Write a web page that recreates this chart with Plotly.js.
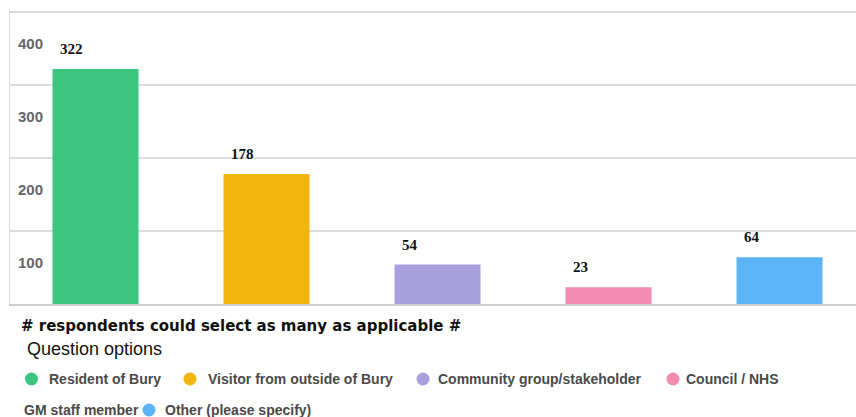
<!DOCTYPE html>
<html>
<head>
<meta charset="utf-8">
<script src="https://cdn.plot.ly/plotly-3.0.1.min.js"></script>
<style>
  html, body { margin: 0; padding: 0; background: #fff; }
  #chart { width: 856px; height: 417px; }
</style>
</head>
<body>
<div id="chart"></div>
<script>
// ---- data ----
const categories = ["Resident of Bury", "Visitor from outside of Bury", "Community group/stakeholder", "Council / NHS GM staff member", "Other (please specify)"];
const values = [322, 178, 54, 23, 64];
const colors = ["#3DC480", "#F1B60F", "#A9A0E0", "#F28BB0", "#5CB3F5"];
const yTicks = [100, 200, 300, 400];
const noteText = "# respondents could select as many as applicable #";
const legendTitle = "Question options";

// ---- layout helpers (pixel offsets from plot's bottom-left corner) ----
const plotLeft = 10, plotBottom = 304;
function px(x) { return x - plotLeft; }
function py(y) { return plotBottom - y; }

const trace = {
  type: "bar",
  x: categories,
  y: values,
  marker: { color: colors },
  hoverinfo: "x+y",
  showlegend: false
};

const annotations = [];
// value labels above bars, left-aligned near bar's left edge
values.forEach((v, i) => {
  annotations.push({
    x: i, y: v, xref: "x", yref: "y",
    text: String(v), showarrow: false,
    xanchor: "left", yanchor: "middle",
    xshift: -38, yshift: 20,
    font: { family: "Liberation Serif", size: 15, color: "#111", weight: "bold" }
  });
});
// note and legend title
annotations.push({
  x: 0, y: 0, xref: "paper", yref: "paper", text: "<b>" + noteText + "</b>",
  showarrow: false, xanchor: "left", yanchor: "middle",
  xshift: px(19), yshift: -(326 - plotBottom),
  font: { family: "DejaVu Sans", size: 15, color: "#111" }
});
annotations.push({
  x: 0, y: 0, xref: "paper", yref: "paper", text: legendTitle,
  showarrow: false, xanchor: "left", yanchor: "middle",
  xshift: px(25), yshift: -(349 - plotBottom),
  font: { family: "Liberation Sans", size: 18, color: "#111" }
});

// manual legend layout
const legendItems = [
  { label: "Resident of Bury", cx: 31.5, tx: 49, y: 379, c: 0 },
  { label: "Visitor from outside of Bury", cx: 190, tx: 208, y: 379, c: 1 },
  { label: "Community group/stakeholder", cx: 423, tx: 438, y: 379, c: 2 },
  { label: "Council / NHS", cx: 673, tx: 686, y: 379, c: 3 },
  { label: "GM staff member", cx: null, tx: 24, y: 410, c: null },
  { label: "Other (please specify)", cx: 149, tx: 165, y: 410, c: 4 }
];
const shapes = [];
const r = 6.5;
legendItems.forEach(it => {
  annotations.push({
    x: 0, y: 0, xref: "paper", yref: "paper", text: "<b>" + it.label + "</b>",
    showarrow: false, xanchor: "left", yanchor: "middle",
    xshift: px(it.tx) - 2, yshift: -(it.y - plotBottom),
    font: { family: "Liberation Sans", size: 14, color: "#4a4a4a" }
  });
  if (it.cx !== null) {
    shapes.push({
      type: "circle", xref: "paper", yref: "paper",
      xsizemode: "pixel", ysizemode: "pixel", xanchor: 0, yanchor: 0,
      x0: px(it.cx) - r, x1: px(it.cx) + r,
      y0: py(it.y) - r, y1: py(it.y) + r,
      fillcolor: colors[it.c], line: { width: 0 }
    });
  }
});

const layout = {
  width: 856, height: 417,
  margin: { l: plotLeft, r: 0, t: 9, b: 417 - plotBottom, pad: 0 },
  paper_bgcolor: "#fff", plot_bgcolor: "#fff",
  bargap: 0.497,
  xaxis: {
    type: "category",
    range: [-0.5, 4.447],
    showticklabels: false, ticks: "",
    showgrid: false, zeroline: false,
    showline: true, linecolor: "#cfcfcf", linewidth: 1.5,
    fixedrange: true
  },
  yaxis: {
    range: [0, 404.1],
    tickvals: yTicks,
    ticktext: yTicks.map(String),
    ticklabelposition: "inside",
    ticklabelshift: 32,
    ticklabelstandoff: 8,
    ticks: "",
    tickfont: { family: "Liberation Sans", size: 15, color: "#666", weight: "bold" },
    showgrid: true, gridcolor: "#dcdcdc", gridwidth: 1.5,
    zeroline: false,
    showline: true, linecolor: "#dcdcdc", linewidth: 1.5,
    fixedrange: true
  },
  annotations: annotations,
  shapes: shapes,
  showlegend: false
};

Plotly.newPlot("chart", [trace], layout, { displayModeBar: false, staticPlot: true });
</script>
</body>
</html>
